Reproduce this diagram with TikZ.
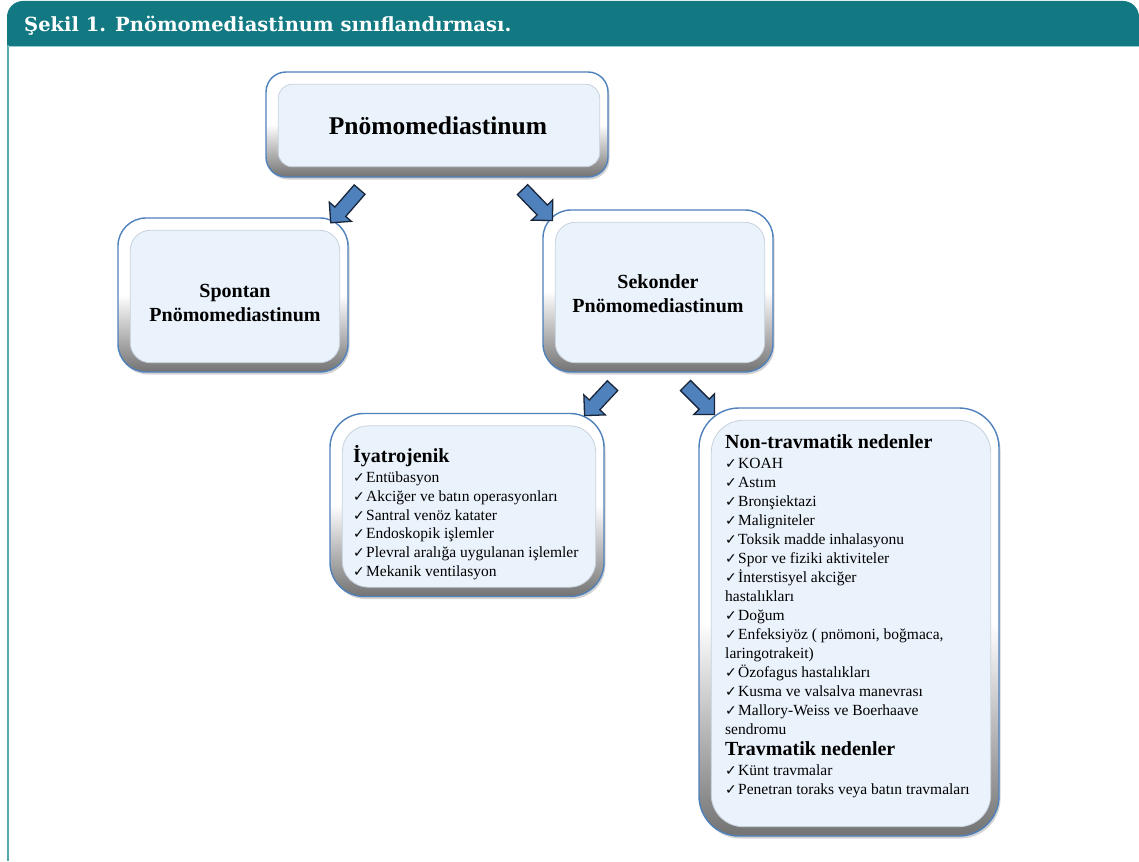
\documentclass[tikz,border=0pt]{standalone}
\usepackage{fontspec}
\setmainfont{Liberation Serif}
\newfontfamily\titlefont{DejaVu Serif}
\newfontfamily\symfont{DejaVu Sans}
\usetikzlibrary{shapes.arrows,shadows}
\definecolor{hdr}{RGB}{18,121,130}
\definecolor{hdrline}{RGB}{84,168,172}
\definecolor{bxblue}{RGB}{79,129,189}
\definecolor{bxfill}{RGB}{234,242,251}
\definecolor{bxinner}{RGB}{200,210,222}
\definecolor{arrfill}{RGB}{79,129,189}
\definecolor{arrdraw}{RGB}{25,38,58}
\newcommand{\chk}{\makebox[13pt][l]{\symfont\fontsize{14}{14}\selectfont ✓}}
\newcommand{\itemsize}{\fontsize{15.5}{19}\selectfont}
\newcommand{\headsize}{\fontsize{20}{24}\selectfont\bfseries}
\tikzset{
  bx/.style={draw=bxblue, line width=1.4pt, top color=white, bottom color=black!55, middle color=white,
    rounded corners=#1, drop shadow={shadow xshift=1.5pt, shadow yshift=-2.5pt, opacity=0.35}, inner sep=0pt},
  inr/.style={draw=bxinner, line width=0.8pt, fill=bxfill, rounded corners=#1},
  barrow/.style={single arrow, fill=arrfill, draw=arrdraw, line width=1.3pt, inner sep=6.5pt,
    minimum width=28pt, single arrow head extend=7.5pt},
  itemline/.style={anchor=base west, inner sep=0pt, font=\itemsize},
  headline/.style={anchor=base west, inner sep=0pt, font=\headsize},
  ctrline/.style={anchor=base, inner sep=0pt, font=\headsize},
}
\begin{document}
\begin{tikzpicture}[x=1pt,y=-1pt]
\useasboundingbox (0,0) rectangle (1139,861);
\fill[white] (0,0) rectangle (1139,861);
% header
\begin{scope}
  \clip (0,0) rectangle (1139,46);
  \fill[hdr, rounded corners=16pt] (7,1) rectangle (1139,90);
\end{scope}
\draw[hdrline, line width=2.5pt] (8,45) -- (8,861);
\draw[hdrline!60, line width=1pt] (8,46.5) -- (1139,46.5);
\node[anchor=base west, inner sep=0pt, text=white, font=\titlefont\bfseries\fontsize{19.5}{24}\selectfont] (title) at (24,32) {Şekil 1. Pnömomediastinum sınıflandırması.};

% boxes
\node[bx=20pt, minimum width=342pt, minimum height=105pt] (b1) at (437,124.5) {};
\draw[inr=14pt] ([shift={(13,13)}]b1.north west) rectangle ([shift={(-9,-11)}]b1.south east);

\node[bx=28pt, minimum width=230pt, minimum height=154pt] (b2) at (233,295) {};
\draw[inr=20pt] ([shift={(13,13)}]b2.north west) rectangle ([shift={(-9,-10)}]b2.south east);

\node[bx=28pt, minimum width=230pt, minimum height=162pt] (b3) at (658,291) {};
\draw[inr=20pt] ([shift={(13,13)}]b3.north west) rectangle ([shift={(-9,-10)}]b3.south east);

\node[bx=34pt, minimum width=274pt, minimum height=183pt] (b4) at (467,505) {};
\draw[inr=26pt] ([shift={(13,13)}]b4.north west) rectangle ([shift={(-9,-10)}]b4.south east);

\node[bx=40pt, minimum width=300pt, minimum height=428pt] (b5) at (849,622) {};
\draw[inr=32pt] ([shift={(13,13)}]b5.north west) rectangle ([shift={(-9,-10)}]b5.south east);

% block arrows
\node[barrow, minimum height=44pt, rotate=-131] (a1) at (347.5,203.5) {};
\node[barrow, minimum height=43pt, rotate=-46] (a2) at (535,202.5) {};
\node[barrow, minimum height=41pt, rotate=-133] (a3) at (601,398) {};
\node[barrow, minimum height=41pt, rotate=-45] (a4) at (697.5,397.5) {};

% texts
\node[ctrline, font=\fontsize{25.5}{30}\selectfont\bfseries] (t1) at (438,135) {Pnömomediastinum};
\node[ctrline] (t2a) at (235,297) {Spontan};
\node[ctrline] (t2b) at (235,321) {Pnömomediastinum};
\node[ctrline] (t3a) at (658,288) {Sekonder};
\node[ctrline] (t3b) at (658,312) {Pnömomediastinum};

\node[headline] (h1) at (353,462) {İyatrojenik};
\node[itemline] (i1) at (353,482) {\chk Entübasyon};
\node[itemline] (i2) at (353,501) {\chk Akciğer ve batın operasyonları};
\node[itemline] (i3) at (353,520) {\chk Santral venöz katater};
\node[itemline] (i4) at (353,538) {\chk Endoskopik işlemler};
\node[itemline] (i5) at (353,557) {\chk Plevral aralığa uygulanan işlemler};
\node[itemline] (i6) at (353,576) {\chk Mekanik ventilasyon};

\node[headline] (h2) at (725,448) {Non-travmatik nedenler};
\node[itemline] (n1) at (725,468) {\chk KOAH};
\node[itemline] (n2) at (725,487) {\chk Astım};
\node[itemline] (n3) at (725,506) {\chk Bronşiektazi};
\node[itemline] (n4) at (725,525) {\chk Maligniteler};
\node[itemline] (n5) at (725,544) {\chk Toksik madde inhalasyonu};
\node[itemline] (n6) at (725,563) {\chk Spor ve fiziki aktiviteler};
\node[itemline] (n7) at (725,582) {\chk İnterstisyel akciğer};
\node[itemline] (n7b) at (725,601) {hastalıkları};
\node[itemline] (n8) at (725,620) {\chk Doğum};
\node[itemline] (n9) at (725,639) {\chk Enfeksiyöz ( pnömoni, boğmaca,};
\node[itemline] (n9b) at (725,658) {laringotrakeit)};
\node[itemline] (n10) at (725,677) {\chk Özofagus hastalıkları};
\node[itemline] (n11) at (725,696) {\chk Kusma ve valsalva manevrası};
\node[itemline] (n12) at (725,715) {\chk Mallory-Weiss ve Boerhaave};
\node[itemline] (n12b) at (725,734) {sendromu};
\node[headline] (h3) at (725,755) {Travmatik nedenler};
\node[itemline] (m1) at (725,775) {\chk Künt travmalar};
\node[itemline] (m2) at (725,794) {\chk Penetran toraks veya batın travmaları};
\end{tikzpicture}
\end{document}
